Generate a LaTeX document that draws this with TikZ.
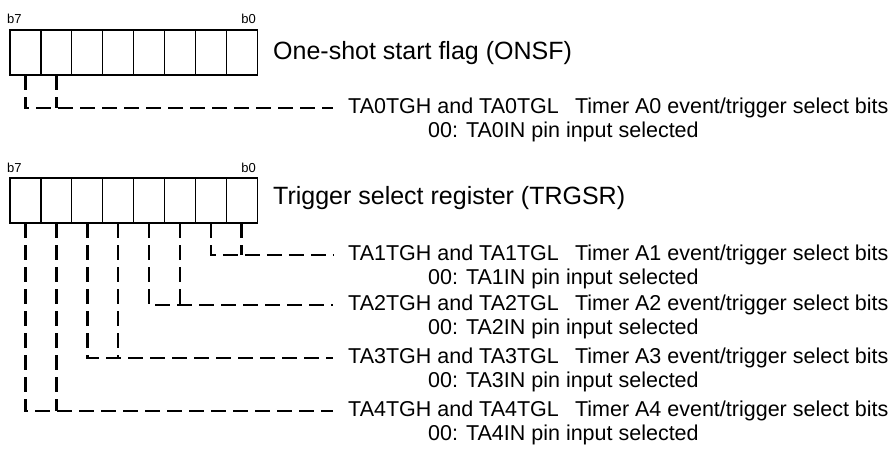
\documentclass[tikz,border=0pt]{standalone}
\usepackage{fontspec}
\setmainfont{Liberation Sans}
\usetikzlibrary{positioning,calc}

\tikzset{
  cell/.style={draw,line width=1.3pt,minimum width=30.9pt,minimum height=45pt,inner sep=0pt,outer sep=0pt},
  bitno/.style={font=\fontsize{13}{13}\selectfont,inner sep=0pt},
  regname/.style={font=\fontsize{25}{25}\selectfont,inner sep=0pt,anchor=base west},
  desc/.style={font=\fontsize{21.5}{21.5}\selectfont,inner sep=0pt,anchor=west},
  lead/.style={line width=2.6pt,dash pattern=on 15pt off 7pt},
}

\begin{document}
\begin{tikzpicture}[x=1pt,y=-1pt]
\useasboundingbox (0,0) rectangle (896,448);
% ONSF register
\foreach \b in {0,...,7}
  \node[cell] (a\b) at ({241.7-30.9*\b},52.5) {};
\node[bitno,anchor=base west] (a7n) at (7,23) {b7};
\node[bitno,anchor=base east] (a0n) at (256,23) {b0};
\node[regname] (onsf) at (273,59) {One-shot start flag (ONSF)};
\node[desc] (ta0) at (348,108) {TA0TGH and TA0TGL\hspace{0.75em}Timer A0 event/trigger select bits};
\node[desc] (ta0s) at (428,132) {00: TA0IN pin input selected};
\coordinate (ta0e) at ([xshift=-15pt]ta0.west);
\draw[lead] (a7.south) |- (ta0e);
\draw[lead] (a6.south) -- (a6.south |- ta0e);

% TRGSR register
\foreach \b in {0,...,7}
  \node[cell] (b\b) at ({241.7-30.9*\b},200.5) {};
\node[bitno,anchor=base west] (b7n) at (7,172) {b7};
\node[bitno,anchor=base east] (b0n) at (256,172) {b0};
\node[regname] (trgsr) at (273,204) {Trigger select register (TRGSR)};
\foreach \lo/\hi/\n/\y in {0/1/1/255,2/3/2/305,4/5/3/358,6/7/4/411}{
  \node[desc] (ta\n) at (348,\y) {TA\n TGH and TA\n TGL\hspace{0.75em}Timer A\n\ event/trigger select bits};
  \node[desc] (ta\n s) at (428,\y+24) {00: TA\n IN pin input selected};
  \coordinate (ta\n e) at ([xshift=-15pt]ta\n.west);
  \draw[lead] (b\hi.south) |- (ta\n e);
  \draw[lead] (b\lo.south) -- (b\lo.south |- ta\n e);
}
\end{tikzpicture}
\end{document}
